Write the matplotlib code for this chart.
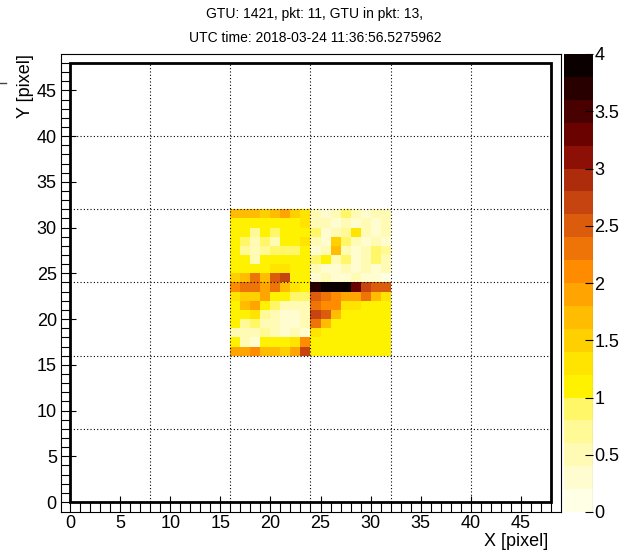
import numpy as np
import matplotlib
matplotlib.use("Agg")
import matplotlib.pyplot as plt
from matplotlib.colors import ListedColormap, BoundaryNorm
from matplotlib.lines import Line2D
from matplotlib.patches import Rectangle

plt.rcParams['font.family'] = ['Liberation Sans', 'DejaVu Sans']

# detector is 48 x 48 pixels, only the block x 16..31, y 16..31 has counts
n_pix = 48
block_x0 = 16
block_y0 = 16

# counts per pixel, rows from y=31 (top) down to y=16, columns x=16..31
counts_rows = [
    [1.6, 1.7, 1.6, 1.5, 1.6, 1.9, 1.5, 1.4,  0.5, 0.3, 0.4, 0.8, 0.5, 0.3, 0.5, 0.4],
    [1.2, 1.1, 1.0, 1.1, 1.0, 1.2, 1.1, 1.3,  0.6, 0.4, 0.3, 0.4, 0.3, 0.4, 0.3, 0.5],
    [1.0, 1.1, 0.7, 1.0, 0.8, 1.0, 1.1, 1.2,  0.9, 0.3, 0.5, 0.7, 1.4, 0.4, 0.3, 0.5],
    [1.0, 0.8, 0.6, 0.9, 0.5, 1.0, 1.0, 1.3,  0.5, 0.3, 1.5, 0.8, 0.5, 0.3, 0.4, 0.3],
    [1.0, 0.7, 0.5, 0.7, 0.8, 0.8, 0.9, 1.0,  0.3, 0.4, 1.6, 0.5, 0.3, 0.6, 0.8, 0.7],
    [1.1, 1.0, 0.5, 1.0, 1.0, 1.0, 1.0, 1.1,  0.8, 1.0, 0.4, 0.8, 0.3, 0.6, 0.8, 0.6],
    [1.1, 1.0, 1.1, 1.2, 1.4, 1.3, 1.0, 1.1,  0.4, 0.3, 0.3, 0.4, 0.2, 0.5, 0.3, 0.4],
    [1.5, 1.7, 2.3, 1.6, 2.5, 2.7, 1.2, 1.1,  0.3, 0.4, 0.2, 0.3, 0.4, 0.2, 0.3, 0.1],
    [2.0, 2.3, 2.3, 1.8, 2.2, 1.6, 1.3, 1.1,  3.7, 3.9, 4.0, 3.9, 3.2, 2.8, 2.5, 2.5],
    [1.3, 1.5, 1.5, 1.9, 1.2, 1.0, 0.9, 0.8,  2.5, 2.3, 2.0, 1.9, 1.8, 2.2, 1.6, 1.3],
    [1.1, 1.7, 1.9, 1.2, 0.8, 0.6, 0.5, 0.6,  2.4, 2.1, 2.0, 1.4, 1.3, 1.1, 1.2, 1.0],
    [1.0, 1.1, 1.4, 0.7, 0.5, 0.3, 0.3, 0.4,  2.7, 2.5, 1.6, 1.2, 1.0, 1.1, 1.0, 1.0],
    [1.0, 0.7, 0.9, 0.5, 0.6, 0.3, 0.2, 0.4,  2.3, 1.7, 1.1, 1.0, 1.0, 1.0, 1.0, 1.0],
    [0.5, 0.4, 0.5, 0.7, 0.6, 0.3, 0.5, 0.3,  1.4, 1.1, 1.0, 1.0, 1.0, 1.0, 1.0, 1.0],
    [1.1, 0.4, 0.3, 1.1, 1.1, 1.0, 1.4, 2.0,  1.2, 1.0, 1.0, 1.0, 1.0, 1.0, 1.0, 1.0],
    [1.8, 1.9, 2.0, 1.7, 1.6, 1.5, 1.8, 2.6,  1.1, 1.0, 1.0, 1.0, 1.0, 1.0, 1.0, 1.1],
]

title_lines = ["GTU: 1421, pkt: 11, GTU in pkt: 13,",
               "UTC time: 2018-03-24 11:36:56.5275962"]

# 20 colour levels from 0 to 4
level_colors = ["#FFFFE6", "#FFFDD0", "#FFFBB4", "#FFF996", "#FFF768",
                "#FFF200", "#FFE400", "#FFD000", "#FFBC00", "#FFA400",
                "#FF8C00", "#EE7408", "#DC5C0E", "#C64410", "#AC2C0C",
                "#8C1006", "#6A0200", "#480000", "#280000", "#0A0000"]
levels = np.linspace(0, 4, 21)
cmap = ListedColormap(level_colors)
norm = BoundaryNorm(levels, cmap.N)

grid = np.full((n_pix, n_pix), np.nan)
block = np.array(counts_rows)[::-1]
grid[block_y0:block_y0 + block.shape[0], block_x0:block_x0 + block.shape[1]] = block
edges = np.arange(n_pix + 1)

fig = plt.figure(figsize=(6.29, 5.53), dpi=100)
ax = fig.add_axes([61 / 629, 41 / 553, 500 / 629, 458 / 553])
mesh = ax.pcolormesh(edges, edges, np.ma.masked_invalid(grid), cmap=cmap, norm=norm)

ax.set_xlim(-0.9, 49.0)
ax.set_ylim(-1.09, 48.98)

# dotted grid every 8 pixels (EC boundaries)
for g in range(8, n_pix, 8):
    ax.plot([g, g], [0, n_pix], color="black", lw=0.8, ls=(0, (1, 2)), zorder=3)
    ax.plot([0, n_pix], [g, g], color="black", lw=0.8, ls=(0, (1, 2)), zorder=3)

ax.add_patch(Rectangle((0, 0), n_pix, n_pix, fill=False, lw=2.0, ec="black", zorder=4))

for s in ax.spines.values():
    s.set_linewidth(0.8)

ax.set_xticks(np.arange(0, 46, 5))
ax.set_yticks(np.arange(0, 46, 5))
ax.set_xticks(np.arange(0, n_pix + 1), minor=True)
ax.set_yticks(np.arange(0, n_pix + 1), minor=True)
ax.tick_params(axis="x", which="major", direction="in", length=11.5, width=0.8,
               labelsize=13, pad=2)
ax.tick_params(axis="x", which="minor", direction="in", length=7.2, width=0.8)
ax.tick_params(axis="y", which="major", direction="in", length=11, width=0.8,
               labelsize=13, pad=3)
ax.tick_params(axis="y", which="minor", direction="in", length=6.5, width=0.8)

fig.text(548 / 629, 1 - 541 / 553, "X [pixel]", ha="right", va="center", fontsize=13)
fig.text(25 / 629, 1 - 54 / 553, "Y [pixel]", ha="center", va="top", rotation=90, fontsize=13)

fig.text(315 / 629, 1 - 14 / 553, title_lines[0], ha="center", va="center", fontsize=10)
fig.text(315 / 629, 1 - 38 / 553, title_lines[1], ha="center", va="center", fontsize=10)

fig.add_artist(Line2D([0 / 629, 6 / 629], [1 - 83 / 553, 1 - 83 / 553],
                      transform=fig.transFigure, color="#444444", lw=1))

cax = fig.add_axes([564 / 629, 41 / 553, 29 / 629, 458 / 553])
cbar = fig.colorbar(mesh, cax=cax, ticks=np.arange(0, 4.01, 0.5))
cbar.outline.set_visible(False)
cax.add_artist(Line2D([1, 1], [0, 1], transform=cax.transAxes, color="#555555", lw=0.8))
cax.tick_params(direction="in", length=5.5, width=0.8, labelsize=13, pad=1)
cax.set_yticklabels(["0", "0.5", "1", "1.5", "2", "2.5", "3", "3.5", "4"])
cax.minorticks_off()

fig.savefig("out.png", dpi=100)
